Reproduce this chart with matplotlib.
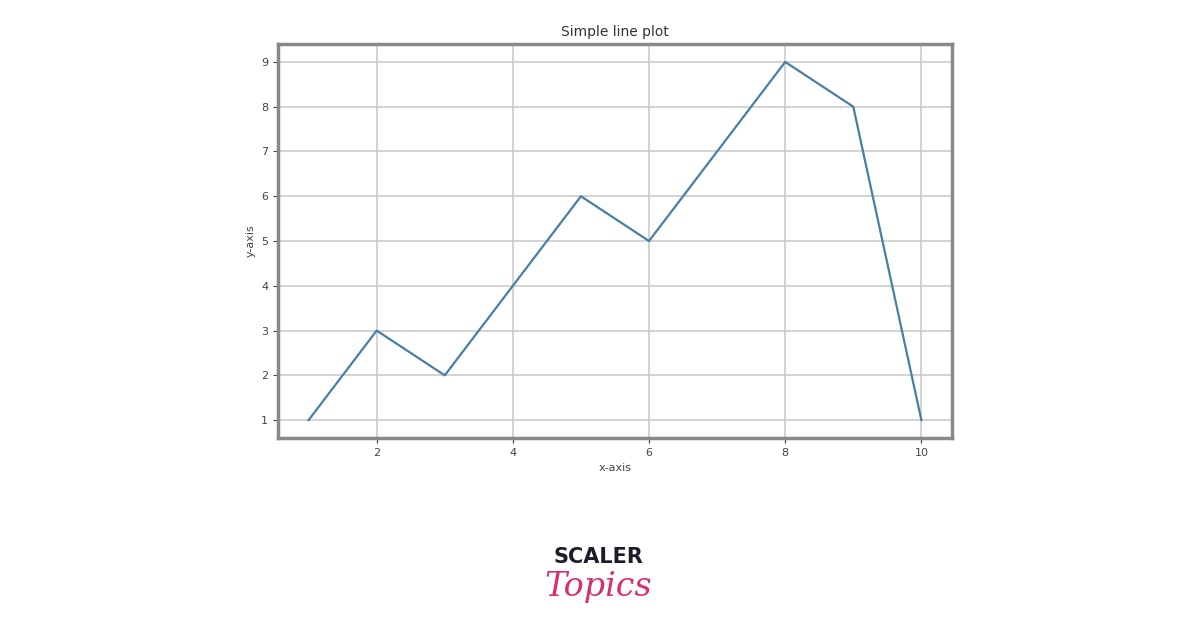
import matplotlib
matplotlib.use('Agg')
import matplotlib.pyplot as plt

x = [1, 2, 3, 4, 5, 6, 7, 8, 9, 10]
y = [1, 3, 2, 4, 6, 5, 7, 9, 8, 1]

fig = plt.figure(figsize=(11.96, 6.28), dpi=100)
ax = fig.add_axes([0.2324, 0.3025, 0.5636, 0.6274])
ax.plot(x, y, color='#4a7ea3', linewidth=1.6)

ax.set_title('Simple line plot', fontsize=10, color='#333333')
ax.set_xlabel('x-axis', fontsize=8, color='#444444')
ax.set_ylabel('y-axis', fontsize=8, color='#444444')
ax.set_xticks([2, 4, 6, 8, 10])
ax.set_yticks(range(1, 10))
ax.tick_params(labelsize=8, colors='#444444')
ax.grid(True, color='#cccccc', linewidth=1.2)
for s in ax.spines.values():
    s.set_linewidth(2.5)
    s.set_color('#888888')

# logo
fig.text(0.5, 0.113, 'SCALER', ha='center', va='center', fontsize=15,
         fontweight='bold', color='#1c1c2a', family='DejaVu Sans')
fig.text(0.5, 0.065, 'Topics', ha='center', va='center', fontsize=24,
         style='italic', color='#d6306f', family='DejaVu Serif')

fig.savefig('out.png', dpi=100)
